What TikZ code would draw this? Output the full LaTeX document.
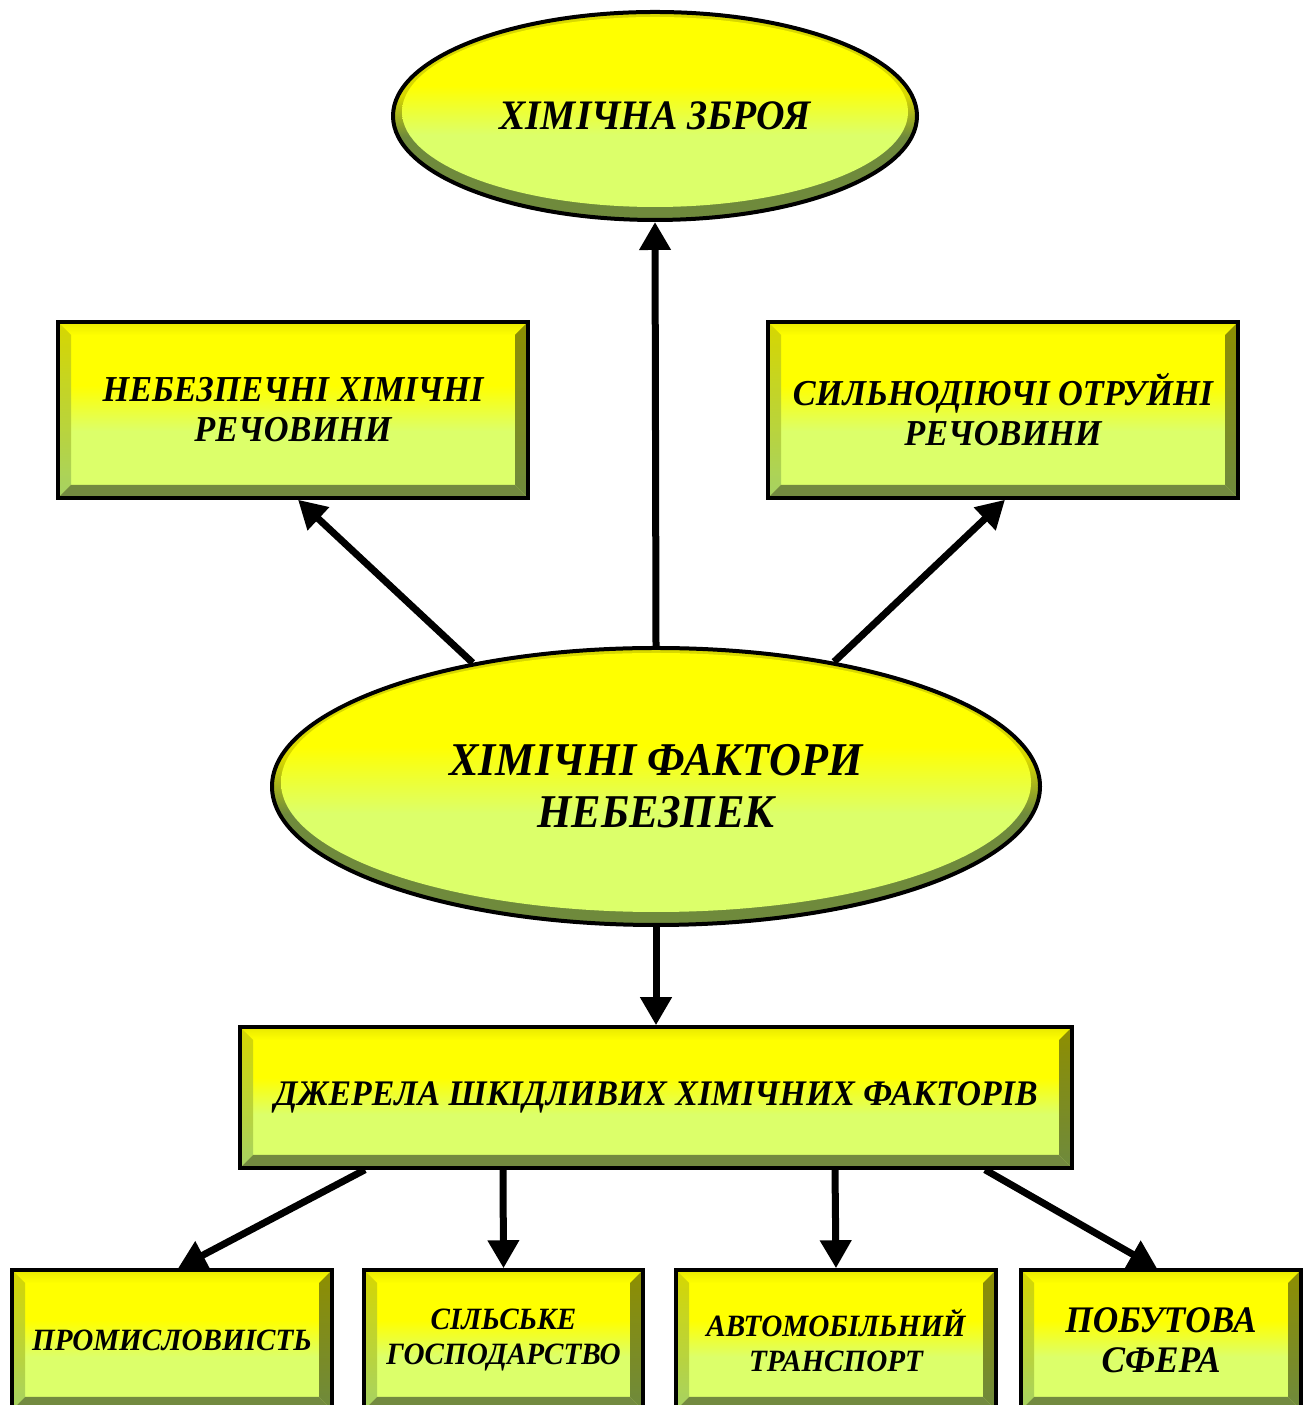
\documentclass[tikz,border=0pt]{standalone}
\usepackage{fontspec}
\setmainfont[FakeStretch=0.94]{Liberation Serif}
\usetikzlibrary{arrows.meta,calc,shapes.geometric}
\definecolor{yel}{HTML}{FFFF00}
\definecolor{lgr}{HTML}{DCFF6A}
\definecolor{btop}{HTML}{E8E800}
\definecolor{blA}{HTML}{D6D600}
\definecolor{blB}{HTML}{A6D264}
\definecolor{brA}{HTML}{8E8E00}
\definecolor{brB}{HTML}{6E8A3E}
\definecolor{bbot}{HTML}{738A40}
\definecolor{rimA}{HTML}{D8D800}
\definecolor{rimB}{HTML}{6F8A3C}
\pgfdeclareverticalshading{fillsh}{100bp}{color(0bp)=(lgr); color(25bp)=(lgr); color(44bp)=(lgr); color(57bp)=(yel); color(75bp)=(yel); color(100bp)=(yel)}
\pgfdeclareverticalshading{rimsh}{100bp}{color(0bp)=(rimB); color(25bp)=(rimB); color(45bp)=(rimB); color(55bp)=(rimA); color(75bp)=(rimA); color(100bp)=(rimA)}
\newcommand{\bv}{13pt}
\tikzset{
  txt/.style={font=\bfseries\itshape\fontsize{#1}{#1}\selectfont},
  bbox/.style 2 args={rectangle, draw=black, line width=3.5pt, inner sep=0pt, align=center,
    minimum width=#1, minimum height=#2,
    path picture={
      \shade[shading=fillsh] (path picture bounding box.south west) rectangle (path picture bounding box.north east);
      \shade[top color=btop, bottom color=yel]
        (path picture bounding box.north west) -- (path picture bounding box.north east)
        -- ([shift={(-\bv,-\bv)}]path picture bounding box.north east)
        -- ([shift={(\bv,-\bv)}]path picture bounding box.north west) -- cycle;
      \shade[top color=blA, bottom color=blB]
        (path picture bounding box.north west) -- ([shift={(\bv,-\bv)}]path picture bounding box.north west)
        -- ([shift={(\bv,\bv)}]path picture bounding box.south west)
        -- (path picture bounding box.south west) -- cycle;
      \shade[top color=brA, bottom color=brB]
        (path picture bounding box.north east) -- ([shift={(-\bv,-\bv)}]path picture bounding box.north east)
        -- ([shift={(-\bv,\bv)}]path picture bounding box.south east)
        -- (path picture bounding box.south east) -- cycle;
      \fill[bbot]
        (path picture bounding box.south west) -- ([shift={(\bv,\bv)}]path picture bounding box.south west)
        -- ([shift={(-\bv,\bv)}]path picture bounding box.south east)
        -- (path picture bounding box.south east) -- cycle;
    }},
  ebev/.style 2 args={ellipse, draw=black, line width=4pt, inner sep=0pt, align=center,
    minimum width=#1, minimum height=#2,
    path picture={
      \shade[shading=rimsh] (path picture bounding box.south west) rectangle (path picture bounding box.north east);
      \shade[shading=fillsh] ([yshift=4pt]path picture bounding box.center)
        ellipse [x radius={#1/2-9pt}, y radius={#2/2-9pt}];
    }},
  arr/.style={line width=7pt, -{Triangle[length=28pt,width=30pt]}}
}
\begin{document}
\begin{tikzpicture}[x=1pt,y=1pt]
\useasboundingbox (0,0) rectangle (1309,1405);
\clip (0,0) rectangle (1309,1405);
% ellipses
\node[ebev={524pt}{208pt}, txt=42pt] (top) at (655,1289) {ХІМІЧНА ЗБРОЯ};
\node[ebev={768pt}{277pt}, txt=47pt] (ce) at (656,618.5) {ХІМІЧНІ ФАКТОРИ\\[5pt]НЕБЕЗПЕК};
% upper boxes
\node[bbox={470pt}{176pt}, txt=36.5pt] (nhr) at (293,995) {НЕБЕЗПЕЧНІ ХІМІЧНІ\\[3.5pt]РЕЧОВИНИ};
\node[bbox={470pt}{176pt}, txt=36.5pt] (sor) at (1003,995) {СИЛЬНОДІЮЧІ ОТРУЙНІ\\[3.5pt]РЕЧОВИНИ};
% sources box
\node[bbox={832pt}{141pt}, txt=36pt] (dj) at (656,307.5) {ДЖЕРЕЛА ШКІДЛИВИХ ХІМІЧНИХ ФАКТОРІВ};
% bottom boxes
\node[bbox={320pt}{140pt}, txt=31pt] (b1) at (172,65) {ПРОМИСЛОВИІСТЬ};
\node[bbox={279pt}{140pt}, txt=31pt] (b2) at (503.5,65) {СІЛЬСЬКЕ\\[4pt]ГОСПОДАРСТВО};
\node[bbox={320pt}{140pt}, txt=31pt] (b3) at (836,65) {АВТОМОБІЛЬНИЙ\\[4pt]ТРАНСПОРТ};
\node[bbox={280pt}{140pt}, txt=37.5pt] (b4) at (1161,65) {ПОБУТОВА\\[2.5pt]СФЕРА};
% connectors
\draw[arr] (ce.north) -- (top.south);
\draw[arr] (ce.146) -- ([xshift=5pt]nhr.south);
\draw[arr] (ce.35) -- ([xshift=2pt]sor.south);
\draw[arr] (ce.south) -- (dj.north);
\draw[arr] ([xshift=-291pt]dj.south) -- ([xshift=6pt]b1.north);
\draw[arr] ([xshift=-153pt]dj.south) -- (b2.north);
\draw[arr] ([xshift=179pt]dj.south) -- (b3.north);
\draw[arr] ([xshift=329pt]dj.south) -- ([xshift=-4pt]b4.north);
\end{tikzpicture}
\end{document}
